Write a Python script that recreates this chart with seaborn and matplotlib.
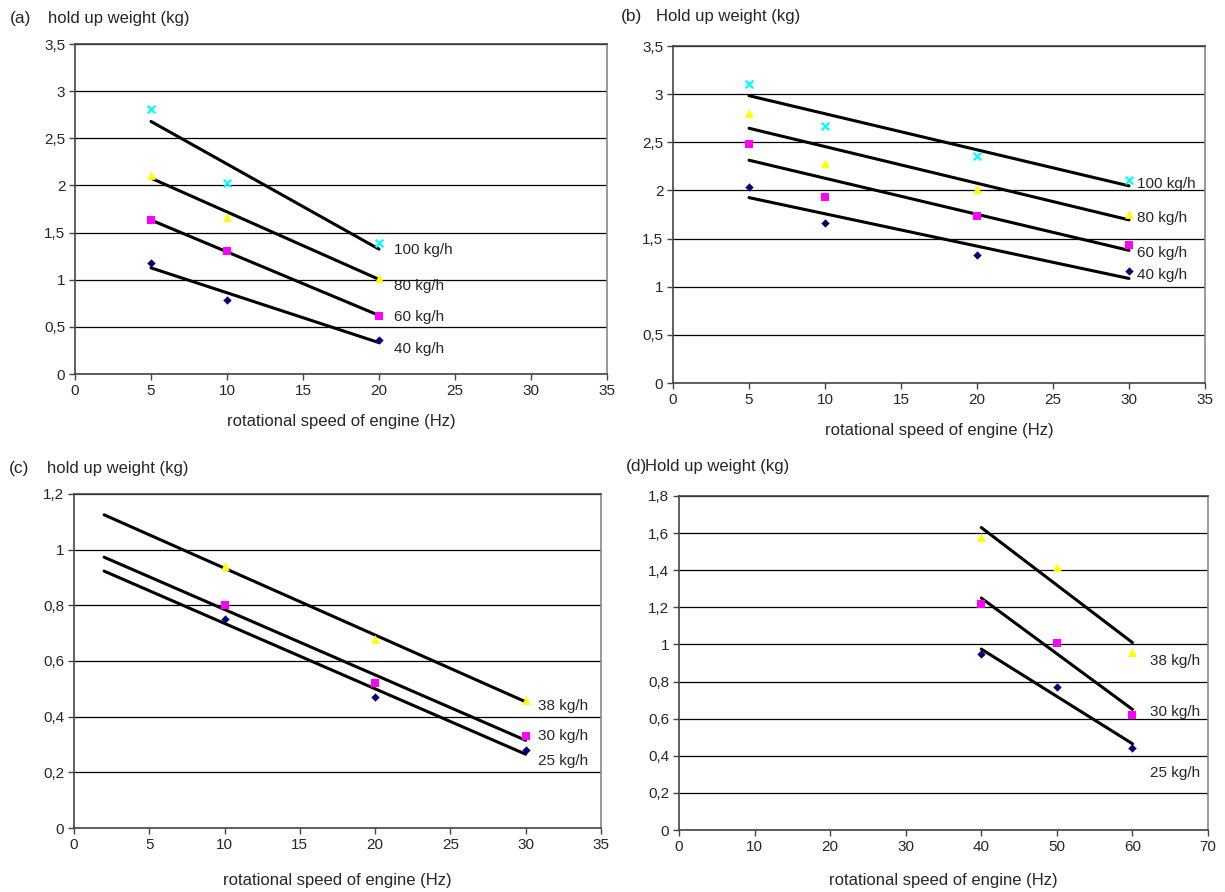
import numpy as np
import pandas as pd
import matplotlib
matplotlib.use('Agg')
import matplotlib.pyplot as plt
import seaborn as sns
from matplotlib.ticker import FuncFormatter, MultipleLocator

# Datos (hold up weight vs rotational speed)
a_x = [5, 10, 20]
a_100 = [2.81, 2.03, 1.39]
a_80 = [2.11, 1.67, 1.02]
a_60 = [1.63, 1.30, 0.62]
a_40 = [1.18, 0.78, 0.36]

b_x = [5, 10, 20, 30]
b_100 = [3.11, 2.67, 2.36, 2.11]
b_80 = [2.80, 2.29, 2.02, 1.76]
b_60 = [2.48, 1.93, 1.73, 1.43]
b_40 = [2.04, 1.66, 1.33, 1.16]

c_x = [10, 20, 30]
c_38 = [0.94, 0.68, 0.46]
c_30 = [0.80, 0.52, 0.33]
c_25 = [0.75, 0.47, 0.28]

d_x = [40, 50, 60]
d_38 = [1.58, 1.42, 0.96]
d_30 = [1.22, 1.01, 0.62]
d_25 = [0.95, 0.77, 0.44]

# estilos por serie: (color, marcador, tamaño)
estilo_bajo = ('#000080', 'D', 18)
estilo_medio = ('#FF00FF', 's', 34)
estilo_alto = ('#FFFF00', '^', 40)
estilo_max = ('#00FFFF', 'x', 30)

sns.set_style('white')
plt.rcParams['font.family'] = ['Liberation Sans', 'DejaVu Sans']

W, H = 1225, 892
fig = plt.figure(figsize=(W / 100, H / 100), dpi=100)


def px_axes(left, right, top, bottom):
    return fig.add_axes([left / W, 1 - bottom / H, (right - left) / W, (bottom - top) / H])


paneles = [
    dict(box=(75, 607, 44, 374), x=a_x, ymax=3.5, ystep=0.5, xmax=35, xstep=5, fit_from=None,
         series=[(a_40, estilo_bajo, '40 kg/h', 0.26), (a_60, estilo_medio, '60 kg/h', 0.607),
                 (a_80, estilo_alto, '80 kg/h', 0.935), (a_100, estilo_max, '100 kg/h', 1.31)],
         lab_x=21.0, tag='(a)', title='hold up weight (kg)', tpos=(10, 48, 18), lpad=12),
    dict(box=(673, 1205, 46, 383), x=b_x, ymax=3.5, ystep=0.5, xmax=35, xstep=5, fit_from=None,
         series=[(b_40, estilo_bajo, '40 kg/h', 1.12), (b_60, estilo_medio, '60 kg/h', 1.35),
                 (b_80, estilo_alto, '80 kg/h', 1.71), (b_100, estilo_max, '100 kg/h', 2.07)],
         lab_x=30.5, tag='(b)', title='Hold up weight (kg)', tpos=(621, 656, 16), lpad=12),
    dict(box=(74, 601, 494, 828), x=c_x, ymax=1.2, ystep=0.2, xmax=35, xstep=5, fit_from=2,
         series=[(c_25, estilo_bajo, '25 kg/h', 0.24), (c_30, estilo_medio, '30 kg/h', 0.33),
                 (c_38, estilo_alto, '38 kg/h', 0.44)],
         lab_x=30.8, tag='(c)', title='hold up weight (kg)', tpos=(9, 47, 469), lpad=15),
    dict(box=(679, 1208, 496, 830), x=d_x, ymax=1.8, ystep=0.2, xmax=70, xstep=10, fit_from=None,
         series=[(d_25, estilo_bajo, '25 kg/h', 0.307), (d_30, estilo_medio, '30 kg/h', 0.635),
                 (d_38, estilo_alto, '38 kg/h', 0.91)],
         lab_x=62.3, tag='(d)', title='Hold up weight (kg)', tpos=(626, 645, 467), lpad=14),
]

coma = FuncFormatter(lambda v, p: f'{round(v, 2):g}'.replace('.', ','))

for p in paneles:
    ax = px_axes(*p['box'])
    xs = p['x']
    for ys, (col, mk, sz), etiqueta, ly in p['series']:
        df = pd.DataFrame({'x': xs, 'y': ys})
        if mk == 'x':
            sns.scatterplot(data=df, x='x', y='y', marker=mk, color=col, s=sz, linewidth=1.6, ax=ax, zorder=3)
        else:
            sns.scatterplot(data=df, x='x', y='y', marker=mk, color=col, s=sz, linewidth=0, ax=ax, zorder=3)
        # recta de tendencia (regresion lineal)
        if p['fit_from'] is not None:
            ax.set_xlim(p['fit_from'], max(xs))
            sns.regplot(data=df, x='x', y='y', scatter=False, ci=None, truncate=False, color='black',
                        line_kws={'linewidth': 2.2}, ax=ax)
        else:
            sns.regplot(data=df, x='x', y='y', scatter=False, ci=None, truncate=True, color='black',
                        line_kws={'linewidth': 2.2}, ax=ax)
        ax.text(p['lab_x'], ly, etiqueta, fontsize=11, va='center', ha='left')

    ax.set_xlim(0, p['xmax'])
    ax.set_ylim(0, p['ymax'])
    ax.xaxis.set_major_locator(MultipleLocator(p['xstep']))
    ax.yaxis.set_major_locator(MultipleLocator(p['ystep']))
    ax.yaxis.set_major_formatter(coma)
    ax.xaxis.set_major_formatter(coma)
    ax.yaxis.grid(True, color='black', linewidth=0.9)
    ax.set_axisbelow(True)
    for lado in ['left', 'bottom', 'top']:
        ax.spines[lado].set_color('#444444')
        ax.spines[lado].set_linewidth(1.2)
    ax.spines['right'].set_color('#888888')
    ax.spines['right'].set_linewidth(1.2)
    ax.tick_params(axis='both', direction='out', length=4, width=1, color='#444444', labelsize=11, pad=3)
    ax.tick_params(left=True, bottom=True)
    ax.set_ylabel('')
    ax.set_xlabel('rotational speed of engine (Hz)', fontsize=12, labelpad=p['lpad'])

    tx, tt, ty = p['tpos']
    fig.text(tx / W, 1 - ty / H, p['tag'], fontsize=12.5, va='center', ha='left')
    fig.text(tt / W, 1 - ty / H, p['title'], fontsize=12, va='center', ha='left')

fig.savefig('out.png', dpi=100, facecolor='white')
